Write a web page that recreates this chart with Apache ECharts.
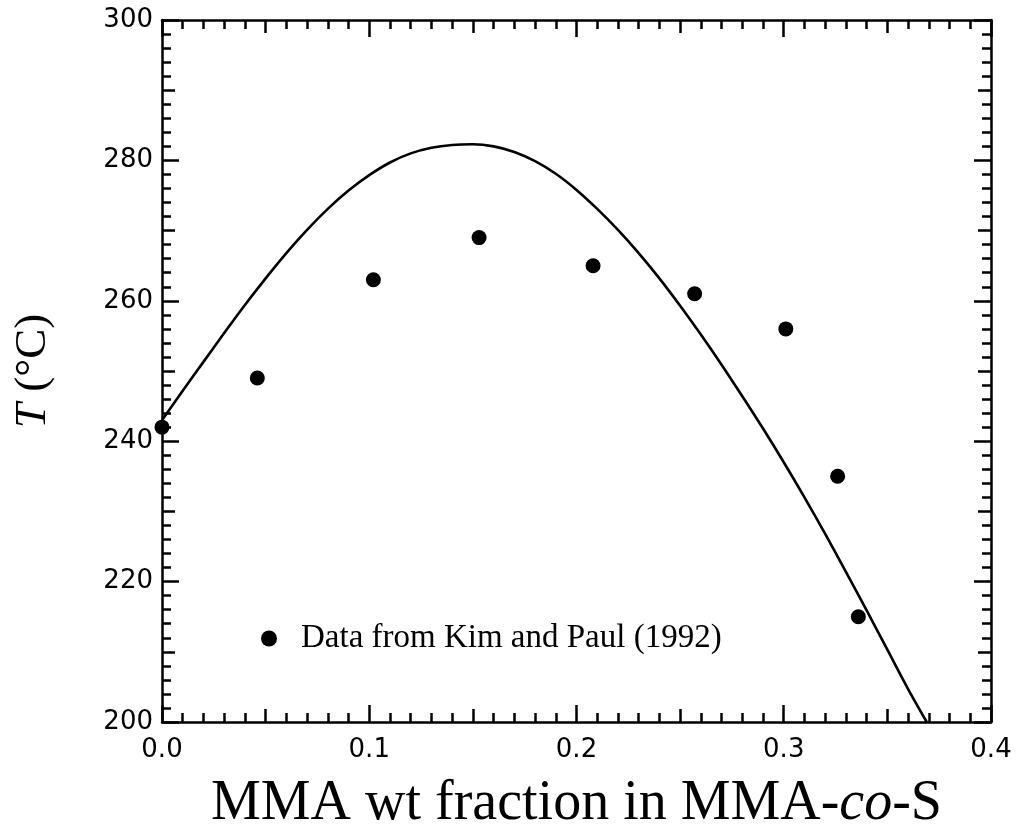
<!DOCTYPE html>
<html>
<head>
<meta charset="utf-8">
<script src="https://cdn.jsdelivr.net/npm/echarts@6/dist/echarts.min.js"></script>
<style>
  html, body { margin: 0; padding: 0; background: #ffffff; }
  #chart { width: 1017px; height: 832px; }
</style>
</head>
<body>
<div id="chart"></div>
<script>
// Measured data: MMA weight fraction vs temperature (°C)
const mmaFrac = [0, 0.046, 0.102, 0.153, 0.208, 0.257, 0.301, 0.326, 0.336];
const tempData = [242, 249, 263, 269, 265, 261, 256, 235, 215];

// Model prediction curve
const curveFrac = [0, 0.01, 0.02, 0.03, 0.04, 0.05, 0.06, 0.07, 0.08, 0.09,
  0.10, 0.11, 0.12, 0.13, 0.14, 0.15, 0.16, 0.17, 0.18, 0.19,
  0.20, 0.21, 0.22, 0.23, 0.24, 0.25, 0.26, 0.27, 0.28, 0.29,
  0.30, 0.31, 0.32, 0.33, 0.34, 0.35, 0.36, 0.369];
const curveTemp = [243.0, 247.2, 251.3, 255.4, 259.4, 263.2, 266.8, 270.1, 273.1, 275.7,
  277.9, 279.7, 281.0, 281.8, 282.2, 282.3, 282.0, 281.2, 279.9, 278.1,
  275.8, 273.1, 270.1, 266.8, 263.2, 259.3, 255.2, 250.9, 246.4, 241.8,
  237.0, 232.0, 226.8, 221.4, 215.9, 210.3, 204.7, 200.0];

// Tick labels
const xTickLabels = ['0.0', '0.1', '0.2', '0.3', '0.4'];
const yTickLabels = ['200', '220', '240', '260', '280', '300'];

const legendName = 'Data from Kim and Paul (1992)';

const ink = '#000000';
const tickFont = 'DejaVu Sans';
const serif = '"Liberation Serif", "DejaVu Serif", serif';

function frameAxis(opts) {
  return Object.assign({
    type: 'value',
    axisLine: { show: true, onZero: false, lineStyle: { color: ink, width: 2.5 } },
    axisTick: { show: true, inside: true, length: 17, lineStyle: { color: ink, width: 2.5 } },
    minorTick: { show: true, splitNumber: 10, length: 9, lineStyle: { color: ink, width: 2.5 } },
    axisLabel: { show: false },
    splitLine: { show: false },
    minorSplitLine: { show: false }
  }, opts);
}

function midTickAxis(opts) {
  return Object.assign({
    type: 'value',
    axisLine: { show: false, onZero: false },
    axisTick: { show: true, inside: true, length: 13, lineStyle: { color: ink, width: 2.5 } },
    minorTick: { show: false },
    axisLabel: { show: false },
    splitLine: { show: false }
  }, opts);
}

const chart = echarts.init(document.getElementById('chart'), null, { renderer: 'canvas' });

chart.setOption({
  backgroundColor: '#ffffff',
  animation: false,
  grid: { left: 162, right: 26, top: 20, bottom: 110, containLabel: false, outerBoundsMode: 'none' },
  legend: {
    data: [legendName],
    left: 256,
    top: 617,
    icon: 'circle',
    itemWidth: 16,
    itemHeight: 16,
    itemStyle: { color: ink, opacity: 1 },
    textStyle: { fontFamily: serif, fontSize: 33, color: ink, padding: [0, 0, 0, 19] }
  },
  xAxis: [
    frameAxis({
      position: 'bottom', min: 0, max: 0.4, interval: 0.1,
      axisLabel: {
        show: true, margin: 15, color: ink, fontFamily: tickFont, fontSize: 26,
        formatter: v => xTickLabels[Math.round(v * 10)]
      },
      name: 'MMA wt fraction in MMA-{i|co}-S',
      nameLocation: 'middle',
      nameGap: 54,
      nameTextStyle: {
        fontFamily: serif, fontSize: 56, color: ink,
        rich: { i: { fontFamily: serif, fontSize: 56, fontStyle: 'italic', color: ink } }
      }
    }),
    frameAxis({ position: 'top', min: 0, max: 0.4, interval: 0.1 }),
    midTickAxis({ position: 'bottom', min: 0, max: 0.4, interval: 0.05 }),
    midTickAxis({ position: 'top', min: 0, max: 0.4, interval: 0.05 })
  ],
  yAxis: [
    frameAxis({
      position: 'left', min: 200, max: 300, interval: 20,
      axisLabel: {
        show: true, margin: 9, color: ink, fontFamily: tickFont, fontSize: 26,
        formatter: v => yTickLabels[Math.round((v - 200) / 20)]
      },
      name: '{i|T} (°C)',
      nameLocation: 'middle',
      nameGap: 106,
      nameTextStyle: {
        fontFamily: serif, fontSize: 45, color: ink,
        rich: { i: { fontFamily: serif, fontSize: 45, fontStyle: 'italic', color: ink } }
      }
    }),
    frameAxis({ position: 'right', min: 200, max: 300, interval: 20 }),
    midTickAxis({ position: 'left', min: 200, max: 300, interval: 10 }),
    midTickAxis({ position: 'right', min: 200, max: 300, interval: 10 })
  ],
  series: [
    {
      name: 'model',
      type: 'line',
      xAxisIndex: 0,
      yAxisIndex: 0,
      data: curveFrac.map((x, i) => [x, curveTemp[i]]),
      showSymbol: false,
      smooth: 0.3,
      lineStyle: { color: ink, width: 2.6 },
      z: 3
    },
    {
      name: legendName,
      type: 'scatter',
      xAxisIndex: 0,
      yAxisIndex: 0,
      data: mmaFrac.map((x, i) => [x, tempData[i]]),
      symbol: 'circle',
      symbolSize: 15,
      clip: false,
      itemStyle: { color: ink, opacity: 1 },
      z: 4
    }
  ]
});
</script>
</body>
</html>
